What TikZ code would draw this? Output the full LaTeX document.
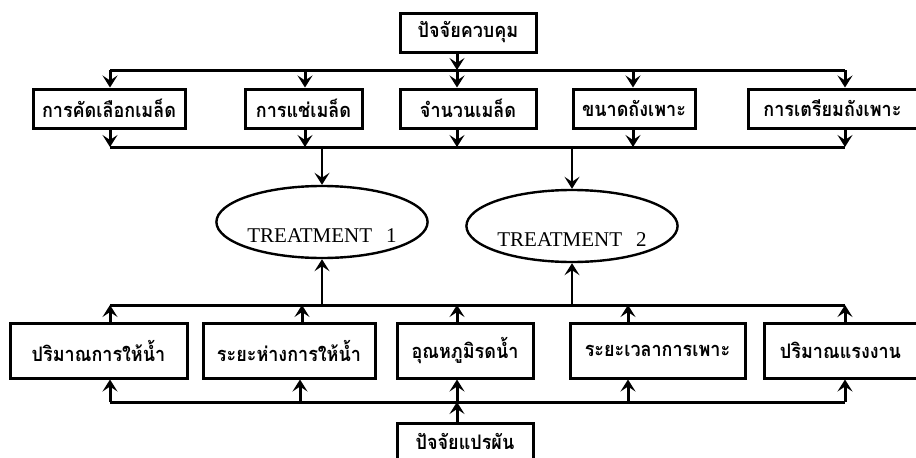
\documentclass[tikz,border=0pt]{standalone}
\usepackage{fontspec}
\setmainfont{Liberation Serif}
\newfontfamily\thaifont[Script=Thai,FakeStretch=0.9]{Loma}
\usetikzlibrary{shapes.geometric,arrows.meta}
\begin{document}
\begin{tikzpicture}[x=1pt,y=-1pt,line width=3pt,
  box/.style={draw,rectangle,inner sep=0pt,font=\thaifont\bfseries\fontsize{20}{24}\selectfont},
  rowa/.style={box,minimum height=39pt},
  rowc/.style={box,minimum height=55pt},
  oval/.style={draw,ellipse,line width=2.4pt,inner sep=0pt,minimum width=195pt,minimum height=72pt,text height=40pt,text depth=0pt,font=\fontsize{21}{25}\selectfont},
  arr/.style={-{Stealth[length=12pt,width=15pt,inset=5pt]}}]
\useasboundingbox (0,0) rectangle (916,458);
\clip (0,0) rectangle (916,458);
% nodes
\node[rowa,minimum width=136pt] (top) at (468,32.5) {ปัจจัยควบคุม};
\node[rowa,minimum width=152pt] (a1) at (109,108.5) {การคัดเลือกเมล็ด};
\node[rowa,minimum width=117pt] (a2) at (303.5,108.5) {การแช่เมล็ด};
\node[rowa,minimum width=136pt] (a3) at (468,108.5) {จำนวนเมล็ด};
\node[rowa,minimum width=122pt] (a4) at (634,108.5) {ขนาดถังเพาะ};
\node[rowa,minimum width=177pt] (a5) at (836.5,108.5) {\hspace*{-8pt}การเตรียมถังเพาะ};
\node[oval] (t1) at (322,222) {TREATMENT\hspace{14pt}1};
\node[oval] (t2) at (572,226) {TREATMENT\hspace{14pt}2};
\node[rowc,minimum width=177pt] (c1) at (98.5,350.5) {ปริมาณการให้น้ำ};
\node[rowc,minimum width=172pt] (c2) at (289,350.5) {ระยะห่างการให้น้ำ};
\node[rowc,minimum width=136pt] (c3) at (465,350.5) {อุณหภูมิรดน้ำ};
\node[rowc,minimum width=175pt] (c4) at (657.5,350.5) {ระยะเวลาการเพาะ};
\node[rowc,minimum width=161pt] (c5) at (844.5,350.5) {\hspace*{-8pt}ปริมาณแรงงาน};
\node[box,minimum width=136pt,minimum height=42pt] (bot) at (465,444) {\raisebox{6pt}{ปัจจัยแปรผัน}};
% bus coordinates
\foreach \n/\x in {1/110,2/305,3/457,4/633,5/845}{
  \coordinate (ua\n) at (\x,70);
  \coordinate (da\n) at (\x,147);}
\foreach \n/\x in {1/110,2/302,3/457,4/628,5/845}{
  \coordinate (uc\n) at (\x,305);}
\foreach \n/\x in {1/110,2/300,3/457,4/628,5/845}{
  \coordinate (dc\n) at (\x,402);}
\coordinate (dt1) at (322,147);
\coordinate (dt2) at (572,147);
\coordinate (ut1) at (322,305);
\coordinate (ut2) at (572,305);
% buses
\draw (ua1) -- (ua5);
\draw (da1) -- (da5);
\draw (uc1) -- (uc5);
\draw (dc1) -- (dc5);
% connectors
\draw[arr] (top.south -| ua3) -- (ua3);
\foreach \n in {1,...,5}{
  \draw[arr] (ua\n) -- (a\n.north -| ua\n);
  \draw[arr] (a\n.south -| da\n) -- (da\n);
  \draw[arr] (c\n.north -| uc\n) -- (uc\n);
  \draw[arr] (dc\n) -- (c\n.south -| dc\n);}
\draw[arr,line width=2.2pt] (dt1) -- (t1.north);
\draw[arr,line width=2.2pt] (dt2) -- (t2.north);
\draw[arr,line width=2.2pt] (ut1) -- (t1.south);
\draw[arr,line width=2.2pt] (ut2) -- (t2.south);
\draw[arr] (bot.north -| dc3) -- (dc3);
\end{tikzpicture}
\end{document}
